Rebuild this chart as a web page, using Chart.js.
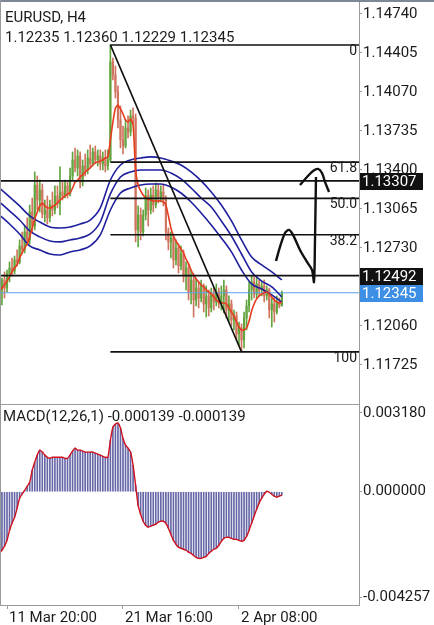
<!DOCTYPE html>
<html>
<head>
<meta charset="utf-8">
<title>EURUSD, H4</title>
<script src="https://cdn.jsdelivr.net/npm/chart.js@4.4.1/dist/chart.umd.min.js"></script>
<style>
  html, body { margin: 0; padding: 0; background: #fff; }
  #wrap { position: relative; width: 434px; height: 625px; overflow: hidden; }
  #wrap canvas { position: absolute; left: 0; }
  #priceCanvas { top: 0; }
  #macdCanvas { top: 405px; }
</style>
</head>
<body>
<div id="wrap">
  <canvas id="priceCanvas" width="434" height="405"></canvas>
  <canvas id="macdCanvas" width="434" height="220"></canvas>
</div>
<script>
// EURUSD H4 — candles, envelopes, fast MA, fib levels and a MACD(12,26,1) pane

const SYMBOL    = 'EURUSD, H4';
const OHLC_TEXT = '1.12235 1.12360 1.12229 1.12345';
const MACD_TEXT = 'MACD(12,26,1) -0.000139 -0.000139';

// x axis: bar numbers, three date ticks
const dateTickBars   = [3, 49, 95];
const dateTickLabels = ['11 Mar 20:00', '21 Mar 16:00', '2 Apr 08:00'];

const priceTicks = [1.14740, 1.14405, 1.14070, 1.13735, 1.13400, 1.13065, 1.12730, 1.12395, 1.12060, 1.11725];
const macdTicks  = [0.003180, 0, -0.004257];

// H4 candles
const opens = [
  1.12283, 1.12369, 1.12455, 1.12386, 1.12507, 1.12558, 1.12532, 1.12627, 1.12610, 1.12747,
  1.12713, 1.12867, 1.12799, 1.13039, 1.12919, 1.13271, 1.13142, 1.13228, 1.13022, 1.13056,
  1.12988, 1.13099, 1.13056, 1.13177, 1.13108, 1.13211, 1.13177, 1.13263, 1.13194, 1.13348,
  1.13486, 1.13417, 1.13520, 1.13297, 1.13434, 1.13400, 1.13503, 1.13452, 1.13555, 1.13486,
  1.13520, 1.13452, 1.13503, 1.13434, 1.13486, 1.14328, 1.14216, 1.14070, 1.13830, 1.13658,
  1.13606, 1.13761, 1.13726, 1.13864, 1.13847, 1.12885, 1.13013, 1.12867, 1.13013, 1.13177,
  1.13056, 1.13185, 1.13099, 1.13228, 1.13159, 1.13211, 1.13142, 1.12867, 1.12782, 1.12816,
  1.12627, 1.12730, 1.12575, 1.12678, 1.12489, 1.12558, 1.12352, 1.12455, 1.12283, 1.12386,
  1.12300, 1.12404, 1.12249, 1.12318, 1.12215, 1.12335, 1.12266, 1.12352, 1.12249, 1.12318,
  1.12369, 1.12197, 1.12249, 1.12112, 1.12146, 1.11991, 1.12043, 1.11940, 1.12129, 1.12232,
  1.12369, 1.12438, 1.12335, 1.12421, 1.12369, 1.12404, 1.12318, 1.12369, 1.12197, 1.12249,
  1.12180, 1.12266, 1.12235
];
const highs = [
  1.12412, 1.12472, 1.12524, 1.12541, 1.12610, 1.12644, 1.12661, 1.12713, 1.12799, 1.12867,
  1.12919, 1.12988, 1.13099, 1.13159, 1.13383, 1.13348, 1.13314, 1.13280, 1.13142, 1.13177,
  1.13142, 1.13211, 1.13263, 1.13263, 1.13426, 1.13297, 1.13314, 1.13297, 1.13417, 1.13555,
  1.13589, 1.13572, 1.13555, 1.13486, 1.13537, 1.13572, 1.13615, 1.13589, 1.13606, 1.13572,
  1.13572, 1.13555, 1.13572, 1.13572, 1.14474, 1.14362, 1.14293, 1.14122, 1.13950, 1.13778,
  1.13830, 1.13864, 1.13915, 1.13933, 1.13881, 1.13091, 1.13074, 1.13056, 1.13245, 1.13228,
  1.13245, 1.13263, 1.13288, 1.13280, 1.13263, 1.13271, 1.13177, 1.12902, 1.12867, 1.12850,
  1.12799, 1.12764, 1.12747, 1.12713, 1.12610, 1.12593, 1.12541, 1.12507, 1.12472, 1.12438,
  1.12455, 1.12421, 1.12404, 1.12369, 1.12386, 1.12386, 1.12421, 1.12386, 1.12404, 1.12455,
  1.12404, 1.12318, 1.12283, 1.12197, 1.12180, 1.12094, 1.12077, 1.12180, 1.12283, 1.12438,
  1.12489, 1.12481, 1.12472, 1.12455, 1.12438, 1.12455, 1.12404, 1.12386, 1.12300, 1.12300,
  1.12318, 1.12300, 1.12360
];
const lows = [
  1.12232, 1.12240, 1.12300, 1.12352, 1.12438, 1.12489, 1.12507, 1.12575, 1.12593, 1.12678,
  1.12687, 1.12756, 1.12764, 1.12867, 1.12885, 1.13056, 1.13039, 1.12988, 1.12953, 1.12936,
  1.12953, 1.13005, 1.13022, 1.13074, 1.13013, 1.13142, 1.13159, 1.13159, 1.13177, 1.13314,
  1.13383, 1.13348, 1.13245, 1.13263, 1.13348, 1.13366, 1.13417, 1.13434, 1.13460, 1.13434,
  1.13400, 1.13400, 1.13383, 1.13400, 1.13469, 1.14173, 1.14018, 1.13761, 1.13589, 1.13537,
  1.13589, 1.13675, 1.13692, 1.13795, 1.12782, 1.12739, 1.12799, 1.12833, 1.12970, 1.12919,
  1.13022, 1.13039, 1.13074, 1.13116, 1.13125, 1.13091, 1.12799, 1.12713, 1.12644, 1.12558,
  1.12584, 1.12515, 1.12541, 1.12438, 1.12369, 1.12283, 1.12249, 1.12137, 1.12232, 1.12215,
  1.12266, 1.12180, 1.12137, 1.12146, 1.12180, 1.12197, 1.12232, 1.12215, 1.12197, 1.12172,
  1.12129, 1.12094, 1.12060, 1.12026, 1.11940, 1.11888, 1.11837, 1.11871, 1.12026, 1.12180,
  1.12283, 1.12300, 1.12300, 1.12318, 1.12318, 1.12266, 1.12283, 1.12129, 1.12051, 1.12094,
  1.12163, 1.12215, 1.12229
];
const closes = [
  1.12369, 1.12455, 1.12386, 1.12507, 1.12558, 1.12532, 1.12627, 1.12610, 1.12747, 1.12713,
  1.12867, 1.12799, 1.13039, 1.12919, 1.13271, 1.13142, 1.13228, 1.13022, 1.13056, 1.12988,
  1.13099, 1.13056, 1.13177, 1.13108, 1.13211, 1.13177, 1.13263, 1.13194, 1.13348, 1.13486,
  1.13417, 1.13520, 1.13297, 1.13434, 1.13400, 1.13503, 1.13452, 1.13555, 1.13486, 1.13520,
  1.13452, 1.13503, 1.13434, 1.13486, 1.14328, 1.14216, 1.14070, 1.13830, 1.13658, 1.13606,
  1.13761, 1.13726, 1.13864, 1.13847, 1.12885, 1.13013, 1.12867, 1.13013, 1.13177, 1.13056,
  1.13185, 1.13099, 1.13228, 1.13159, 1.13211, 1.13142, 1.12867, 1.12782, 1.12816, 1.12627,
  1.12730, 1.12575, 1.12678, 1.12489, 1.12558, 1.12352, 1.12455, 1.12283, 1.12386, 1.12300,
  1.12404, 1.12249, 1.12318, 1.12215, 1.12335, 1.12266, 1.12352, 1.12249, 1.12318, 1.12369,
  1.12197, 1.12249, 1.12112, 1.12146, 1.11991, 1.12043, 1.11940, 1.12129, 1.12232, 1.12369,
  1.12438, 1.12335, 1.12421, 1.12369, 1.12404, 1.12318, 1.12369, 1.12197, 1.12249, 1.12180,
  1.12266, 1.12232, 1.12345
];

// red fast moving average
const maFast = [
  1.12360, 1.12386, 1.12412, 1.12446, 1.12481, 1.12524, 1.12558, 1.12584, 1.12644, 1.12687,
  1.12730, 1.12764, 1.12825, 1.12902, 1.12979, 1.13039, 1.13091, 1.13116, 1.13091, 1.13074,
  1.13074, 1.13082, 1.13099, 1.13116, 1.13142, 1.13159, 1.13177, 1.13194, 1.13202, 1.13245,
  1.13297, 1.13314, 1.13340, 1.13357, 1.13383, 1.13400, 1.13417, 1.13443, 1.13460, 1.13469,
  1.13477, 1.13486, 1.13503, 1.13512, 1.13658, 1.13812, 1.13933, 1.13958, 1.13924, 1.13881,
  1.13830, 1.13812, 1.13838, 1.13787, 1.13400, 1.13271, 1.13220, 1.13185, 1.13159, 1.13151,
  1.13142, 1.13134, 1.13134, 1.13134, 1.13134, 1.13125, 1.13099, 1.13005, 1.12902, 1.12833,
  1.12790, 1.12756, 1.12721, 1.12687, 1.12635, 1.12593, 1.12541, 1.12498, 1.12464, 1.12438,
  1.12412, 1.12395, 1.12369, 1.12352, 1.12335, 1.12309, 1.12283, 1.12266, 1.12257, 1.12257,
  1.12249, 1.12215, 1.12180, 1.12146, 1.12094, 1.12051, 1.12026, 1.12026, 1.12043, 1.12103,
  1.12189, 1.12249, 1.12292, 1.12318, 1.12335, 1.12343, 1.12352, 1.12335, 1.12309, 1.12283,
  1.12266, 1.12257, 1.12266
];

// blue envelope, read every 4th bar
const envBars   = [0, 4, 8, 12, 16, 20, 24, 28, 32, 36, 40, 44, 48, 52, 56, 60, 64, 68, 72, 76, 80, 84, 88, 92, 96, 100, 104, 108, 112];
const envUpper  = [1.13245, 1.13168, 1.13091, 1.13005, 1.12953, 1.12910, 1.12902, 1.12910, 1.12936, 1.12970,
                   1.13074, 1.13314, 1.13443, 1.13486, 1.13503, 1.13512, 1.13503, 1.13477, 1.13443, 1.13383,
                   1.13306, 1.13211, 1.13099, 1.12962, 1.12799, 1.12653, 1.12584, 1.12524, 1.12455];
const envMiddle = [1.13125, 1.13048, 1.12970, 1.12876, 1.12825, 1.12790, 1.12782, 1.12799, 1.12816, 1.12850,
                   1.12953, 1.13194, 1.13340, 1.13383, 1.13400, 1.13400, 1.13400, 1.13374, 1.13323, 1.13245,
                   1.13159, 1.13082, 1.12962, 1.12833, 1.12678, 1.12524, 1.12446, 1.12395, 1.12309];
const envLower  = [1.13013, 1.12936, 1.12850, 1.12747, 1.12713, 1.12678, 1.12670, 1.12696, 1.12713, 1.12747,
                   1.12842, 1.13056, 1.13202, 1.13245, 1.13271, 1.13280, 1.13280, 1.13254, 1.13202, 1.13125,
                   1.13031, 1.12928, 1.12816, 1.12696, 1.12541, 1.12421, 1.12378, 1.12326, 1.12266];

// MACD(12,26,1): main = signal
const macd = [
  -0.00249, -0.00236, -0.00220, -0.00196, -0.00156, -0.00127, -0.00103, -0.00067, -0.00026, -0.00010,
   0.00006,  0.00022,  0.00038,  0.00087,  0.00119,  0.00148,  0.00168,  0.00160,  0.00148,  0.00139,
   0.00135,  0.00139,  0.00139,  0.00139,  0.00139,  0.00139,  0.00135,  0.00135,  0.00148,  0.00164,
   0.00176,  0.00168,  0.00168,  0.00164,  0.00160,  0.00160,  0.00160,  0.00160,  0.00156,  0.00152,
   0.00148,  0.00143,  0.00139,  0.00139,  0.00208,  0.00261,  0.00273,  0.00277,  0.00257,  0.00216,
   0.00188,  0.00176,  0.00160,  0.00107,  0.00026, -0.00055, -0.00091, -0.00119, -0.00135, -0.00143,
  -0.00139, -0.00135, -0.00131, -0.00123, -0.00119, -0.00119, -0.00127, -0.00147, -0.00172, -0.00196,
  -0.00212, -0.00224, -0.00228, -0.00232, -0.00236, -0.00244, -0.00249, -0.00257, -0.00265, -0.00269,
  -0.00269, -0.00265, -0.00261, -0.00249, -0.00240, -0.00232, -0.00228, -0.00216, -0.00200, -0.00188,
  -0.00184, -0.00184, -0.00188, -0.00192, -0.00192, -0.00196, -0.00200, -0.00196, -0.00180, -0.00156,
  -0.00127, -0.00099, -0.00071, -0.00046, -0.00026, -0.00010,  0.00002, -0.00002, -0.00010, -0.00018,
  -0.00022, -0.00018, -0.000139
];

// drawn objects
const fibLabels    = ['0', '61.8', '50.0', '38.2', '100'];
const fibPrices    = [1.14474, 1.13467, 1.13156, 1.12844, 1.11837];
const fibStartBar  = 44;
const trendBars    = [44, 96];
const trendPrices  = [1.14474, 1.11837];
const levelPrices  = [1.13307, 1.12492];
const lastPrice    = 1.12345;
const strokeABars   = [109.67, 111.26, 113.24, 114.83, 116.42, 119.19, 121.97, 123.95, 124.74, 125.14, 125.53];
const strokeAPrices = [1.12618, 1.12739, 1.12859, 1.12885, 1.12842, 1.12713, 1.12610, 1.12541, 1.12438, 1.12799, 1.13340];
const strokeBBars   = [119.19, 121.97, 124.35, 126.33, 127.91, 129.10, 130.69];
const strokeBPrices = [1.13271, 1.13340, 1.13391, 1.13409, 1.13374, 1.13297, 1.13211];

// visible window
const X_MIN = 0.224, X_MAX = 142.59;
const PRICE_MIN = 1.11381, PRICE_MAX = 1.14860;
const MACD_MIN = -0.00457, MACD_MAX = 0.0035;

const C = {
  up: '#62a43e', down: '#d1745f', env: '#1f1f9e', ma: '#e63c1e', ink: '#111111',
  cur: '#5aa2e6', curBox: '#3d8fe6', axis: '#9a9a9a', text: '#1c1c1c',
  hist: '#6767a8', macd: '#d1121e', frame: '#7d8896',
};

Chart.defaults.font.family = 'Roboto';
Chart.defaults.color = C.text;

const bars = closes.map((_, i) => i);
const candleColours = bars.map(i => closes[i] >= opens[i] ? C.up : C.down);

const lineDs = (data, colour, width, order, extra = {}) => ({
  type: 'line', data, borderColor: colour, borderWidth: width,
  pointRadius: 0, fill: false, order, ...extra,
});
const pts = (xs, ys) => xs.map((x, k) => ({ x, y: ys[k] }));
const flat = (x0, x1, p) => [{ x: x0, y: p }, { x: x1, y: p }];

// keep chart areas flush with the canvas edges
const noPad = s => { s.paddingTop = 0; s.paddingBottom = 0; s.paddingLeft = 0; s.paddingRight = 0; };

const priceDecor = {
  id: 'priceDecor',
  afterDraw(chart) {
    const { ctx, chartArea: a, scales: { y } } = chart;
    ctx.save();
    ctx.fillStyle = C.frame;
    ctx.fillRect(0, 0, chart.width, 2);
    ctx.strokeStyle = C.axis;
    ctx.lineWidth = 1;
    ctx.beginPath();
    ctx.moveTo(0.5, 0); ctx.lineTo(0.5, a.bottom);
    ctx.moveTo(0, a.bottom - 0.5); ctx.lineTo(a.right, a.bottom - 0.5);
    ctx.stroke();

    ctx.fillStyle = C.text;
    ctx.font = '15px Roboto';
    ctx.textAlign = 'left';
    ctx.textBaseline = 'alphabetic';
    ctx.fillText(SYMBOL, 5, 22);
    ctx.fillText(OHLC_TEXT, 5, 42);

    // fib level captions, right end of each line
    ctx.font = '14px Roboto';
    ctx.textAlign = 'right';
    fibPrices.forEach((p, k) => ctx.fillText(fibLabels[k], a.right - 2, y.getPixelForValue(p) + 10));

    // price boxes on the axis
    const box = (p, bg) => {
      const py = Math.round(y.getPixelForValue(p));
      ctx.fillStyle = bg;
      ctx.fillRect(a.right + 1, py - 8, 63, 17);
      ctx.fillStyle = '#fff';
      ctx.font = '15px Roboto';
      ctx.textAlign = 'left';
      ctx.textBaseline = 'middle';
      ctx.fillText(p.toFixed(5), a.right + 3, py + 1);
    };
    levelPrices.forEach(p => box(p, '#111'));
    box(lastPrice, C.curBox);
    ctx.restore();
  },
};

const macdDecor = {
  id: 'macdDecor',
  afterDraw(chart) {
    const { ctx, chartArea: a } = chart;
    ctx.save();
    ctx.strokeStyle = C.axis;
    ctx.lineWidth = 1;
    ctx.beginPath();
    ctx.moveTo(0.5, 0); ctx.lineTo(0.5, a.bottom);
    ctx.stroke();
    ctx.fillStyle = C.text;
    ctx.font = '15px Roboto';
    ctx.textAlign = 'left';
    ctx.textBaseline = 'alphabetic';
    ctx.fillText(MACD_TEXT, 3, 16);
    ctx.restore();
  },
};

const rightAxis = (min, max, tickVals, fmt) => ({
  type: 'linear', position: 'right', min, max,
  afterFit(s) { s.width = 75; noPad(s); },
  afterBuildTicks(s) { s.ticks = tickVals.map(v => ({ value: v })); },
  ticks: { color: C.text, font: { size: 15 }, padding: 1, autoSkip: false, callback: fmt },
  grid: { drawOnChartArea: false, drawTicks: true, tickLength: 3, color: C.axis, offset: false },
  border: { display: true, color: C.axis },
});

const baseOptions = {
  responsive: false,
  animation: false,
  events: [],
  layout: { padding: 0, autoPadding: false },
  plugins: { legend: { display: false }, tooltip: { enabled: false } },
};

new Chart(document.getElementById('priceCanvas'), {
  type: 'bar',
  data: {
    datasets: [
      { type: 'bar', data: bars.map(i => ({ x: i, y: [lows[i], highs[i]] })),
        backgroundColor: candleColours, barThickness: 1, grouped: false, order: 10 },
      { type: 'bar', data: bars.map(i => ({ x: i, y: [opens[i], closes[i]] })),
        backgroundColor: candleColours, barThickness: 1.5, grouped: false, order: 9 },
      lineDs(flat(X_MIN, X_MAX, lastPrice), C.cur, 1, 8),
      lineDs(pts(envBars, envUpper), C.env, 1.6, 6, { cubicInterpolationMode: 'monotone' }),
      lineDs(pts(envBars, envMiddle), C.env, 1.6, 6, { cubicInterpolationMode: 'monotone' }),
      lineDs(pts(envBars, envLower), C.env, 1.6, 6, { cubicInterpolationMode: 'monotone' }),
      lineDs(bars.map(i => ({ x: i, y: maFast[i] })), C.ma, 1.6, 5, { tension: 0.2 }),
      ...fibPrices.map(p => lineDs(flat(fibStartBar, X_MAX, p), C.ink, 1.6, 3)),
      ...levelPrices.map(p => lineDs(flat(X_MIN, X_MAX, p), C.ink, 1.8, 3)),
      lineDs(pts(trendBars, trendPrices), C.ink, 1.6, 3),
      lineDs(pts(strokeABars, strokeAPrices), C.ink, 2.4, 1, { tension: 0.3 }),
      lineDs(pts(strokeBBars, strokeBPrices), C.ink, 2.4, 1, { tension: 0.3 }),
    ],
  },
  options: {
    ...baseOptions,
    scales: {
      x: { type: 'linear', min: X_MIN, max: X_MAX, offset: false, display: false },
      y: rightAxis(PRICE_MIN, PRICE_MAX, priceTicks, v => v.toFixed(5)),
    },
  },
  plugins: [priceDecor],
});

new Chart(document.getElementById('macdCanvas'), {
  type: 'bar',
  data: {
    datasets: [
      lineDs(bars.map(i => ({ x: i, y: macd[i] })), C.macd, 1.4, 1, { tension: 0.2 }),
      { type: 'bar', data: bars.map(i => ({ x: i, y: macd[i] })),
        backgroundColor: C.hist, barThickness: 1, order: 2 },
    ],
  },
  options: {
    ...baseOptions,
    scales: {
      x: {
        type: 'linear', position: 'bottom', min: X_MIN, max: X_MAX, offset: false,
        afterFit(s) { s.height = 20; noPad(s); },
        afterBuildTicks(s) { s.ticks = dateTickBars.map(v => ({ value: v })); },
        ticks: { autoSkip: false, maxRotation: 0, align: 'start', labelOffset: 2, padding: 0,
                 color: C.text, font: { size: 15 }, callback: (v, k) => dateTickLabels[k] },
        grid: { drawOnChartArea: false, drawTicks: true, tickLength: 4, color: C.axis, offset: false },
        border: { display: true, color: C.axis },
      },
      y: rightAxis(MACD_MIN, MACD_MAX, macdTicks, v => v.toFixed(6)),
    },
  },
  plugins: [macdDecor],
});
</script>
</body>
</html>
